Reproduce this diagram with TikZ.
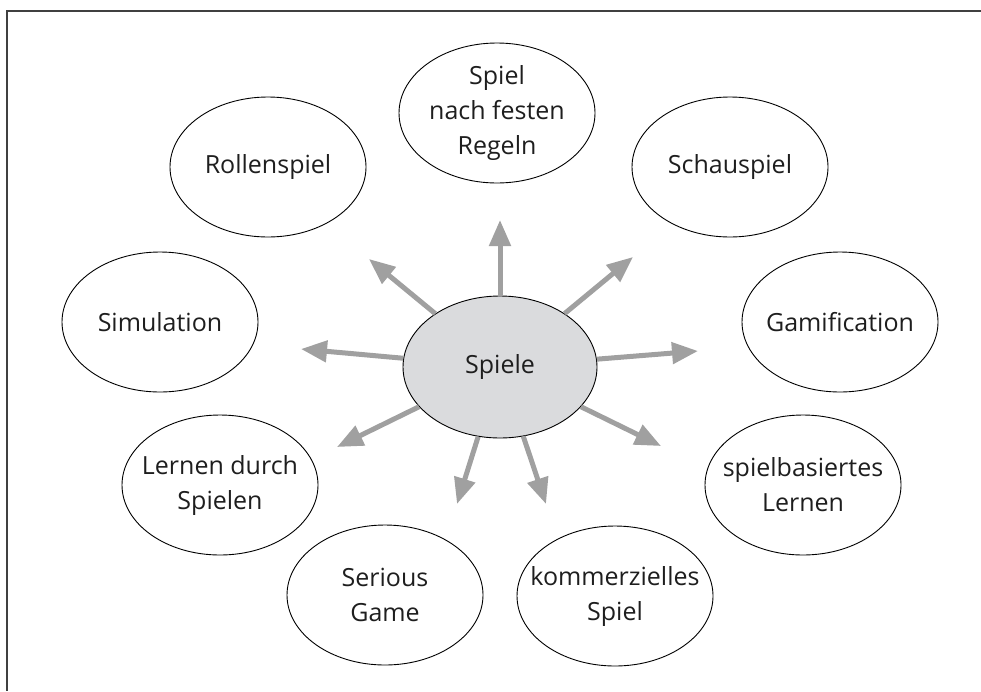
\documentclass[tikz,border=0pt]{standalone}
\usepackage{fontspec}
\setmainfont{Open Sans}
\usetikzlibrary{shapes.geometric,arrows.meta}
\definecolor{arrowgray}{HTML}{A0A0A0}
\definecolor{centerfill}{HTML}{DADBDD}
\definecolor{txt}{HTML}{1E1E1E}
\tikzset{
  bubble/.style={ellipse, draw=black, line width=0.9pt, inner sep=0pt,
    minimum width=196pt, minimum height=140pt},
  lbl/.style={align=center, text=txt, inner sep=0pt, font=\fontsize{25}{35}\selectfont},
  ray/.style={draw=arrowgray, line width=5pt, -{Triangle[length=26pt,width=21pt]}},
}
\begin{document}
\begin{tikzpicture}[x=1pt,y=-1pt]
\useasboundingbox (0,0) rectangle (981,691);
\draw[line width=2pt, draw=black!75] (981,11) coordinate (fa) -- (7,11) coordinate (fb) -- (7,691) coordinate (fc);

\node[bubble, fill=centerfill, minimum width=194pt, minimum height=142pt,
  label={[lbl]center:Spiele}] (spiele) at (500,367) {};

\node[bubble, label={[lbl]center:{Spiel\\nach festen\\Regeln}}] (regeln) at (497,113) {};
\node[bubble, label={[lbl]center:Rollenspiel}] (rollen) at (268,167) {};
\node[bubble, label={[lbl]center:Schauspiel}] (schau) at (730,167) {};
\node[bubble, label={[lbl]center:Simulation}] (sim) at (160,322) {};
\node[bubble, label={[lbl]center:Gamification}] (gami) at (840,322) {};
\node[bubble, label={[lbl]center:{Lernen durch\\Spielen}}] (lernen) at (220,485) {};
\node[bubble, label={[lbl]center:{spielbasiertes\\Lernen}}] (spielbas) at (803,485) {};
\node[bubble, label={[lbl]center:{Serious\\Game}}] (serious) at (385,595) {};
\node[bubble, label={[lbl]center:{kommerzielles\\Spiel}}] (komm) at (615,596) {};

\coordinate (tU) at (500,220);
\coordinate (tUL) at (369,259);
\coordinate (tUR) at (633,257);
\coordinate (tL) at (301,349);
\coordinate (tR) at (698,351);
\coordinate (tLL) at (337,447);
\coordinate (tLR) at (661,446);
\coordinate (tDL) at (457,504);
\coordinate (tDR) at (546,504);

\draw[ray] (spiele) -- (tU);
\draw[ray] (spiele) -- (tUL);
\draw[ray] (spiele) -- (tUR);
\draw[ray] (spiele) -- (tL);
\draw[ray] (spiele) -- (tR);
\draw[ray] (spiele) -- (tLL);
\draw[ray] (spiele) -- (tLR);
\draw[ray] (spiele) -- (tDL);
\draw[ray] (spiele) -- (tDR);
\end{tikzpicture}
\end{document}
